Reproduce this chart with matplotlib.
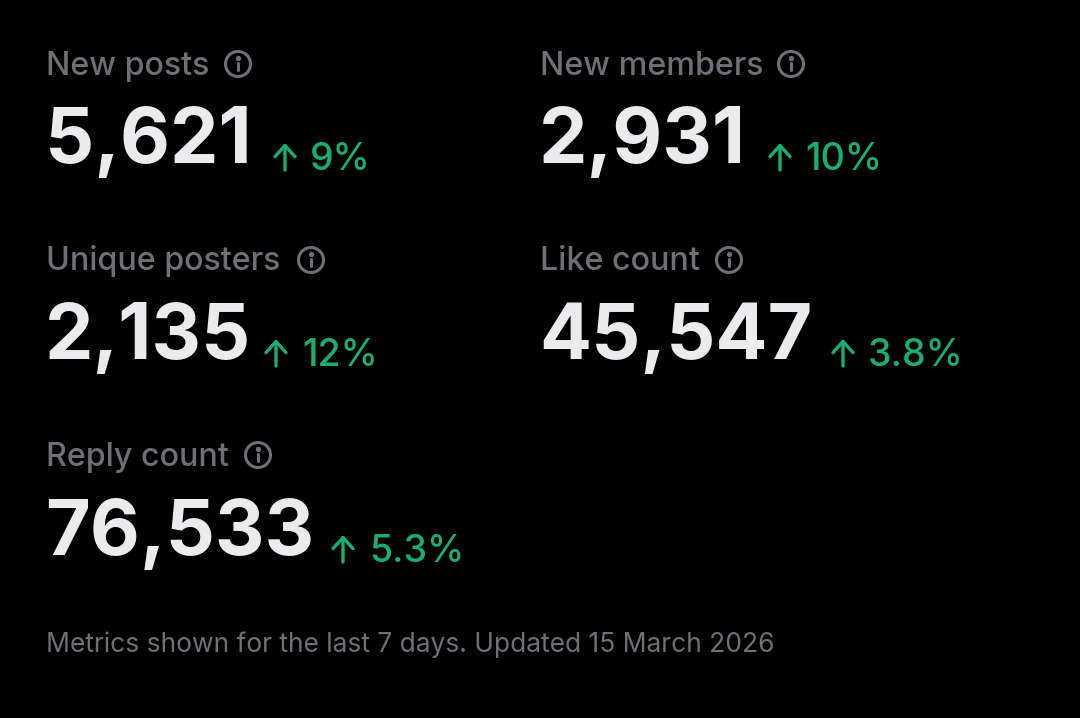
import matplotlib
matplotlib.use('Agg')
import matplotlib.pyplot as plt
from matplotlib.patches import Circle

labels = ['New posts', 'New members', 'Unique posters', 'Like count', 'Reply count']
values = ['5,621', '2,931', '2,135', '45,547', '76,533']
changes = ['9%', '10%', '12%', '3.8%', '5.3%']
footer = 'Metrics shown for the last 7 days. Updated 15 March 2026'

# pixel layout of each card
left = [47, 541, 47, 541, 47]
label_y = [75, 75, 270, 270, 466]
icon_y = [64, 64, 260, 260, 455]
value_y = [163, 163, 359, 359, 555]
icon_x = [238, 791, 311, 729, 258]
arrow_x = [285, 780, 276, 843, 343]
change_x = [310, 805, 302, 868, 369]

GREY = '#6e7076'
WHITE = '#ebebee'
GREEN = '#1cae70'
FONT = 'Inter'

fig = plt.figure(figsize=(10.8, 7.18), dpi=100, facecolor='black')
ax = fig.add_axes([0, 0, 1, 1])
ax.set_xlim(0, 1080)
ax.set_ylim(718, 0)
ax.axis('off')

for i in range(len(labels)):
    ax.text(left[i] - 1, label_y[i], labels[i], color=GREY, fontsize=23.2, family=FONT,
            fontweight='medium', va='baseline', ha='left')
    ax.text(left[i] - 2, value_y[i], values[i], color=WHITE, fontsize=55.5, family=FONT,
            fontweight='bold', va='baseline', ha='left')
    ax.text(change_x[i], value_y[i] + 7, changes[i], color=GREEN, fontsize=27, family=FONT,
            fontweight='medium', va='baseline', ha='left')

    # up arrow
    ax.annotate('', xy=(arrow_x[i], value_y[i] - 20), xytext=(arrow_x[i], value_y[i] + 7),
                arrowprops=dict(arrowstyle='->,head_width=0.72,head_length=0.8', color=GREEN,
                                lw=2.4, shrinkA=0, shrinkB=0, mutation_scale=10))

    # info icon
    ax.add_patch(Circle((icon_x[i], icon_y[i]), 12.5, fill=False, ec=GREY, lw=2.2))
    ax.plot([icon_x[i], icon_x[i]], [icon_y[i] - 1, icon_y[i] + 6], color=GREY, lw=2.2,
            solid_capstyle='round')
    ax.plot([icon_x[i]], [icon_y[i] - 6], marker='o', ms=2.8, color=GREY)

ax.text(46, 652, footer, color=GREY, fontsize=19, family=FONT, va='baseline', ha='left')

fig.savefig('out.png', dpi=100, facecolor='black')
